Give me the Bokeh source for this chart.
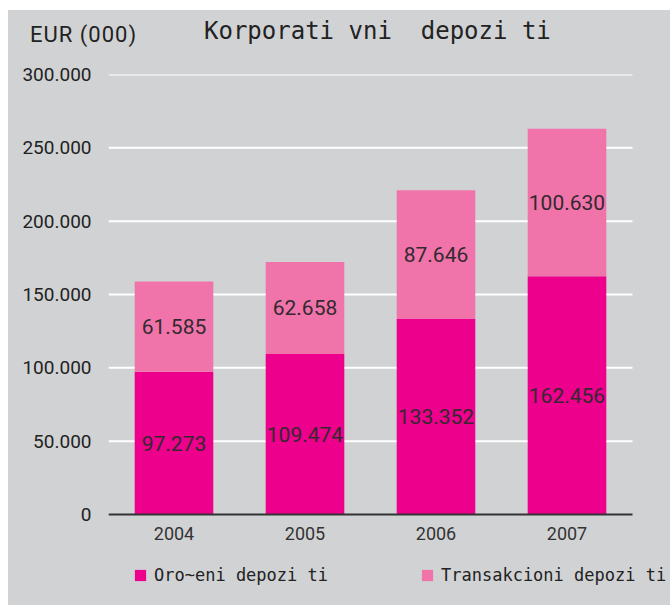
from bokeh.plotting import figure
from bokeh.models import (ColumnDataSource, Legend, LegendItem, FixedTicker, LabelSet, Div,
                          Range1d)
from bokeh.layouts import column
from bokeh.embed import file_html
from bokeh.resources import INLINE
from bokeh.core.properties import value

years = ["2004", "2005", "2006", "2007"]
oroceni = [97273, 109474, 133352, 162456]
transakcioni = [61585, 62658, 87646, 100630]
y_ticks = [0, 50000, 100000, 150000, 200000, 250000, 300000]
y_tick_labels = ["0", "50.000", "100.000", "150.000", "200.000", "250.000", "300.000"]
series_names = ["Oro~eni depozi ti", "Transakcioni depozi ti"]
title_text = "Korporati vni  depozi ti"
unit_text = "EUR (000)"

BG = "#D1D2D4"
C1 = "#EC008C"
C2 = "#F074AA"

def fmt(v):
    return f"{v:,}".replace(",", ".")

n = len(years)
idx = list(range(n))

src = ColumnDataSource(dict(
    x=idx,
    o=oroceni,
    t=transakcioni,
    top=[a + b for a, b in zip(oroceni, transakcioni)],
    mid_o=[a / 2 for a in oroceni],
    mid_t=[a + b / 2 for a, b in zip(oroceni, transakcioni)],
    lab_o=[fmt(v) for v in oroceni],
    lab_t=[fmt(v) for v in transakcioni],
))

W = 662
HEADER_H = 50
FIG_H = 595 - HEADER_H
FRAME_H = 440
BOTTOM = FIG_H - 14 - FRAME_H      # space below the zero line
LEFT = 100
PLOT_W = 524                        # width of the category area
FRAME_W = W - LEFT                  # frame extends to the right edge (room for the legend)

header = Div(
    text=(
        f'<div style="position:relative;width:{W}px;height:{HEADER_H}px;background:{BG};">'
        f'<span style="position:absolute;left:22px;top:12px;font-family:Roboto;font-size:22px;'
        f'letter-spacing:1px;color:#222222;line-height:26px;white-space:nowrap;">{unit_text}</span>'
        f'<span style="position:absolute;left:196px;top:6px;'
        f'font-family:\'DejaVu Sans Mono\';font-size:24px;color:#222222;line-height:30px;'
        f'white-space:pre;">{title_text}</span>'
        '</div>'
    ),
    width=W, height=HEADER_H, margin=0,
    styles={"background-color": BG},
)

y_max = 300000
y_min = -y_max * BOTTOM / FRAME_H
x_start = -0.5
x_end = x_start + n * FRAME_W / PLOT_W

p = figure(x_range=Range1d(x_start, x_end), y_range=Range1d(y_min, y_max),
           width=W, height=FIG_H, output_backend="svg", toolbar_location=None, margin=0,
           min_border_left=LEFT, min_border_right=0, min_border_top=14, min_border_bottom=0)
p.background_fill_color = BG
p.border_fill_color = BG
p.outline_line_color = None
p.grid.visible = False

# horizontal grid lines limited to the category area
grid_src = ColumnDataSource(dict(
    y=y_ticks[1:],
    x0=[-0.5] * (len(y_ticks) - 1),
    x1=[n - 0.5] * (len(y_ticks) - 1),
))
p.segment(x0="x0", x1="x1", y0="y", y1="y", source=grid_src, line_color="white",
          line_width=2, level="underlay")

r1 = p.vbar(x="x", bottom=0, top="o", width=0.6, source=src, fill_color=C1, line_color=None)
r2 = p.vbar(x="x", bottom="o", top="top", width=0.6, source=src, fill_color=C2, line_color=None)

for ycol, lcol in (("mid_o", "lab_o"), ("mid_t", "lab_t")):
    ls = LabelSet(x="x", y=ycol, text=lcol, source=src, text_align="center",
                  text_baseline="middle", text_font=value("Roboto"), text_font_size="21px",
                  text_color="#33292f")
    p.add_layout(ls)

# y axis
p.yaxis.ticker = FixedTicker(ticks=y_ticks)
p.yaxis.major_label_overrides = {t: l for t, l in zip(y_ticks, y_tick_labels)}
p.yaxis.axis_line_color = None
p.yaxis.major_tick_line_color = None
p.yaxis.minor_tick_line_color = None
p.yaxis.major_label_standoff = 11
p.yaxis.major_label_text_font = "Roboto"
p.yaxis.major_label_text_font_size = "19px"
p.yaxis.major_label_text_color = "#222222"

# x axis at the zero line
p.xaxis.fixed_location = 0
p.xaxis.bounds = (-0.5, n - 0.5)
p.xaxis.ticker = FixedTicker(ticks=idx)
p.xaxis.major_label_overrides = {i: y for i, y in zip(idx, years)}
p.xaxis.axis_line_color = "#333333"
p.xaxis.axis_line_width = 2
p.xaxis.major_tick_line_color = None
p.xaxis.minor_tick_line_color = None
p.xaxis.major_label_standoff = 6
p.xaxis.major_label_text_font = "Roboto"
p.xaxis.major_label_text_font_size = "18px"
p.xaxis.major_label_text_color = "#333333"

legend = Legend(items=[LegendItem(label=series_names[0], renderers=[r1]),
                       LegendItem(label=series_names[1], renderers=[r2])],
                orientation="horizontal", location=(25, 20),
                background_fill_alpha=0, border_line_color=None,
                padding=0, margin=0, spacing=92, label_standoff=7,
                glyph_width=14, glyph_height=14, label_height=20,
                label_text_font="DejaVu Sans Mono", label_text_font_size="17px",
                label_text_color="#222222")
p.add_layout(legend, "center")

layout = column(header, p, margin=(10, 0, 0, 8), spacing=0, styles={"background-color": BG})

open("out.html", "w").write(file_html(layout, INLINE))
